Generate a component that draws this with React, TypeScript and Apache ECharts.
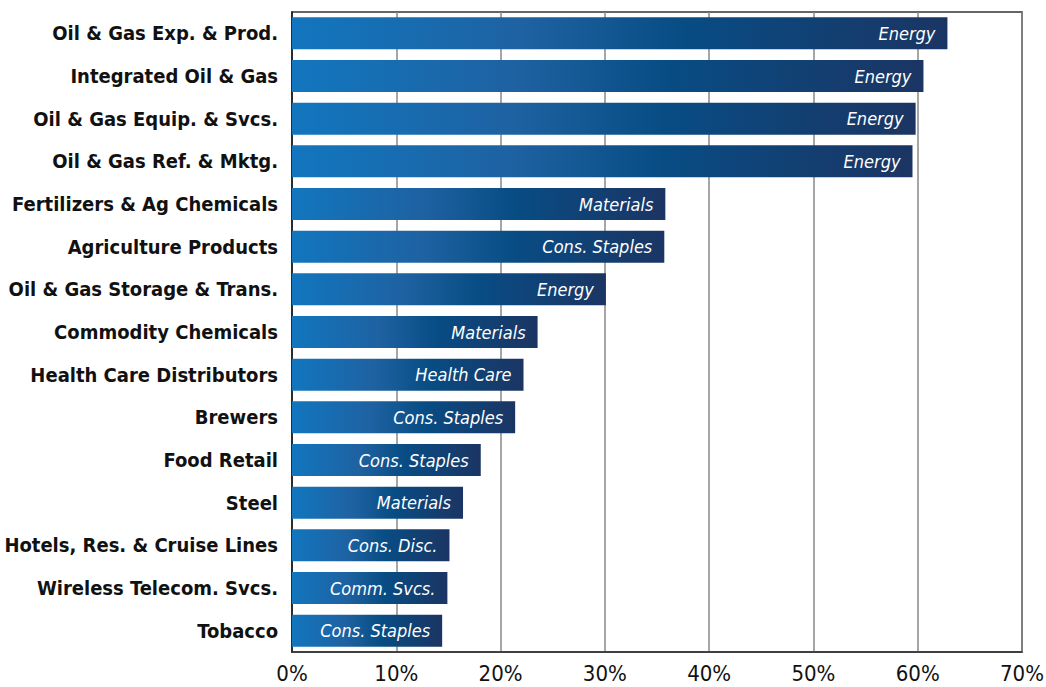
import React, { useEffect, useRef } from "react";
import * as echarts from "echarts";

const categories = [
  "Oil & Gas Exp. & Prod.",
  "Integrated Oil & Gas",
  "Oil & Gas Equip. & Svcs.",
  "Oil & Gas Ref. & Mktg.",
  "Fertilizers & Ag Chemicals",
  "Agriculture Products",
  "Oil & Gas Storage & Trans.",
  "Commodity Chemicals",
  "Health Care Distributors",
  "Brewers",
  "Food Retail",
  "Steel",
  "Hotels, Res. & Cruise Lines",
  "Wireless Telecom. Svcs.",
  "Tobacco",
];
const values = [62.85, 60.55, 59.8, 59.5, 35.8, 35.7, 30.1, 23.55, 22.2, 21.4, 18.1, 16.4, 15.1, 14.9, 14.4];
const sectors = [
  "Energy",
  "Energy",
  "Energy",
  "Energy",
  "Materials",
  "Cons. Staples",
  "Energy",
  "Materials",
  "Health Care",
  "Cons. Staples",
  "Cons. Staples",
  "Materials",
  "Cons. Disc.",
  "Comm. Svcs.",
  "Cons. Staples",
];
const xTicks = [0, 10, 20, 30, 40, 50, 60, 70];

const FONT = "'Liberation Sans Narrow', 'DejaVu Sans Condensed', 'Roboto', sans-serif";

export default function App() {
  const ref = useRef<HTMLDivElement>(null);
  useEffect(() => {
    if (!ref.current) return;
    document.body.style.margin = "0";
    const chart = echarts.init(ref.current, null, { renderer: "svg" });
    const grad = new echarts.graphic.LinearGradient(0, 0, 1, 0, [
      { offset: 0, color: "#1276BE" },
      { offset: 0.35, color: "#1E62A2" },
      { offset: 0.6, color: "#084C84" },
      { offset: 1, color: "#1B3563" },
    ]);
    chart.setOption({
      animation: false,
      backgroundColor: "#ffffff",
      grid: {
        left: 292,
        right: 24,
        top: 12,
        bottom: 35,
        show: true,
        borderColor: "#333333",
        borderWidth: 1.5,
        containLabel: false,
        outerBoundsMode: "none",
      },
      xAxis: {
        type: "value",
        min: xTicks[0],
        max: xTicks[xTicks.length - 1],
        interval: 10,
        axisLine: { show: true, lineStyle: { color: "#333", width: 1.5 } },
        axisTick: { show: false },
        splitLine: { show: true, lineStyle: { color: "#888888", width: 1.5 } },
        axisLabel: {
          formatter: (v: number) => v + "%",
          color: "#111",
          fontSize: 22,
          fontFamily: FONT,
          margin: 10,
        },
      },
      yAxis: {
        type: "category",
        inverse: true,
        data: categories,
        axisLine: { show: true, lineStyle: { color: "#111", width: 1.5 } },
        axisTick: { show: false },
        axisLabel: {
          color: "#111",
          fontSize: 20,
          fontWeight: "bold",
          fontFamily: FONT,
          margin: 14,
        },
      },
      series: [
        {
          type: "bar",
          data: values,
          barCategoryGap: "25%",
          itemStyle: { color: grad },
          label: {
            show: true,
            position: "insideRight",
            distance: 12,
            formatter: (p: any) => sectors[p.dataIndex],
            color: "#ffffff",
            fontStyle: "italic",
            fontSize: 18,
            fontFamily: FONT,
          },
        },
      ],
    });
    return () => chart.dispose();
  }, []);
  return <div ref={ref} style={{ width: 1046, height: 687 }} />;
}
